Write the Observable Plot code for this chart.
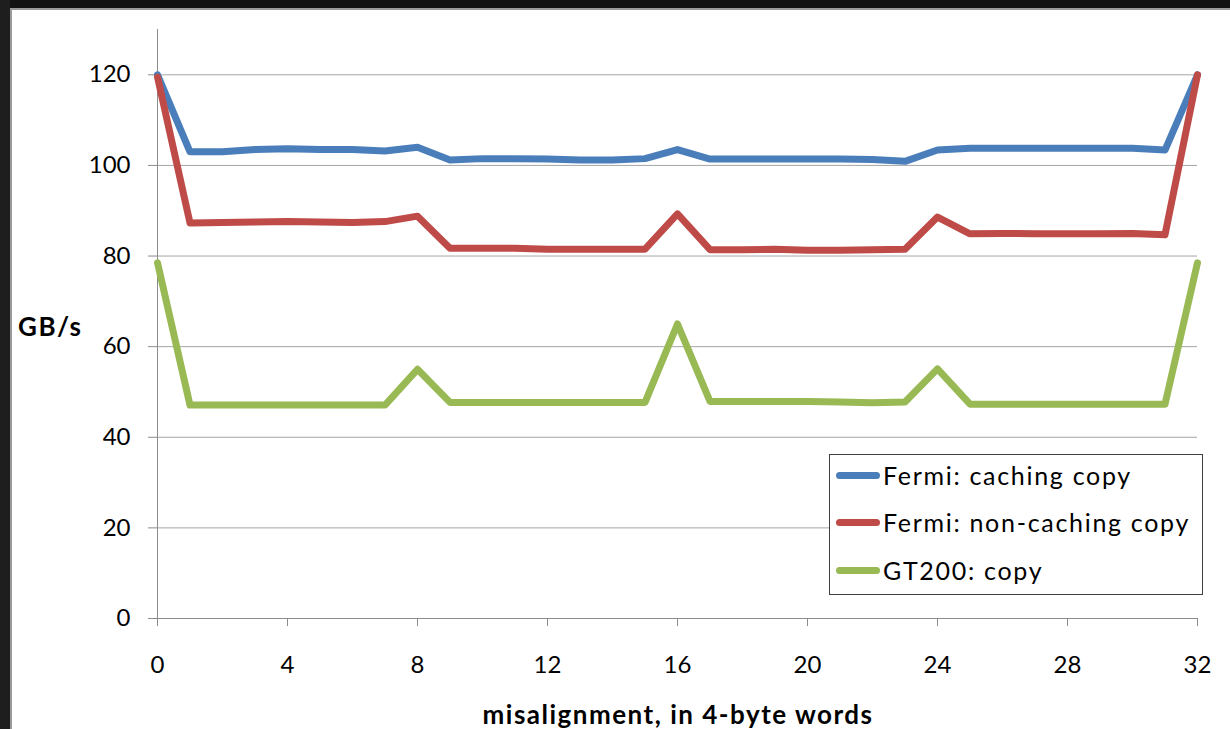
<!DOCTYPE html>
<html><head><meta charset="utf-8">
<script src="https://cdn.jsdelivr.net/npm/d3@7"></script>
<script src="https://cdn.jsdelivr.net/npm/@observablehq/plot@0.6"></script>
<style>
body{margin:0;background:#fff;}
#wrap{position:relative;width:1230px;height:729px;overflow:hidden;background:#fff;font-family:Lato,"Open Sans",sans-serif;color:#000;}
#chart{position:absolute;left:0;top:0;}
#top{position:absolute;left:0;top:0;width:1230px;height:8px;background:#121212;}
#topline{position:absolute;left:10px;top:8px;width:1220px;height:2px;background:#9a9a9a;}
#left{position:absolute;left:0;top:0;width:10px;height:729px;background:#1e1e1e;}
#leftline{position:absolute;left:10px;top:8px;width:2px;height:721px;background:#9a9a9a;}
.ttl{position:absolute;font-weight:bold;font-size:26px;white-space:nowrap;line-height:1;letter-spacing:1.5px;}
#legend{position:absolute;left:829px;top:454px;width:372px;height:139px;border:1px solid #404040;background:#fff;}
.row{position:absolute;left:6px;height:30px;display:flex;align-items:center;font-size:25px;letter-spacing:1.7px;white-space:nowrap;}
.sw{width:44px;height:7px;border-radius:4px;margin-right:3px;}
</style></head>
<body><div id="wrap"><div id="chart"></div>
<div id="top"></div><div id="left"></div><div id="topline"></div><div id="leftline"></div>
<div class="ttl" id="ylab" style="left:18px;top:313px;">GB/s</div>
<div class="ttl" id="xlab" style="left:678px;top:701px;transform:translateX(-50%);">misalignment, in 4-byte words</div>
<div id="legend"></div>
</div>
<script>
const offsets = d3.range(0, 33);
const seriesNames = ["Fermi: caching copy", "Fermi: non-caching copy", "GT200: copy"];
const seriesColors = ["#4a7ebb", "#be4b48", "#98b954"];
const caching = [120,103.0,103.0,103.5,103.7,103.5,103.5,103.2,104.0,101.2,101.5,101.5,101.4,101.2,101.2,101.5,103.5,101.4,101.4,101.4,101.4,101.4,101.3,100.9,103.4,103.8,103.8,103.8,103.8,103.8,103.8,103.4,120];
const nonCaching = [119.5,87.3,87.4,87.5,87.6,87.5,87.4,87.6,88.8,81.7,81.7,81.7,81.5,81.5,81.5,81.5,89.3,81.4,81.4,81.5,81.3,81.3,81.4,81.5,88.6,84.9,85.0,84.9,84.9,84.9,85.0,84.7,120];
const gt200 = [78.5,47.1,47.1,47.1,47.1,47.1,47.1,47.1,55.0,47.7,47.7,47.7,47.7,47.7,47.7,47.7,65.0,47.9,47.9,47.9,47.9,47.8,47.6,47.8,55.1,47.3,47.3,47.3,47.3,47.3,47.3,47.3,78.5];
const yTicks = [0, 20, 40, 60, 80, 100, 120];
const xTicks = [0, 4, 8, 12, 16, 20, 24, 28, 32];

const allSeries = [caching, nonCaching, gt200];
const rows = [];
allSeries.forEach((vals, s) => vals.forEach((v, i) => rows.push({x: offsets[i], y: v, series: seriesNames[s]})));

const plot = Plot.plot({
  width: 1230, height: 729,
  marginLeft: 157, marginRight: 33, marginTop: 29, marginBottom: 111,
  style: {fontFamily: "Lato, 'Open Sans', sans-serif", fontSize: "24px", color: "#000", background: "transparent"},
  x: {domain: [0, 32]},
  y: {domain: [0, 130]},
  color: {domain: seriesNames, range: seriesColors},
  marks: [
    Plot.gridY(yTicks.slice(1), {stroke: "#a6a6a6", strokeOpacity: 1}),
    Plot.axisY(yTicks, {tickSize: 9, tickPadding: 18, label: null, stroke: "#8c8c8c", fill: "#000"}),
    Plot.axisX(xTicks, {tickSize: 8, tickPadding: 29, label: null, stroke: "#8c8c8c", fill: "#000"}),
    Plot.ruleY([0], {stroke: "#8c8c8c"}),
    Plot.ruleX([0], {stroke: "#8c8c8c"}),
    Plot.line(rows, {x: "x", y: "y", z: "series", stroke: "series", strokeWidth: 7, strokeLinecap: "round", strokeLinejoin: "round"})
  ]
});
document.getElementById("chart").appendChild(plot);

const legend = document.getElementById("legend");
const rowTops = [5, 52, 100];
seriesNames.forEach((name, i) => {
  const r = document.createElement("div");
  r.className = "row";
  r.style.top = rowTops[i] + "px";
  const sw = document.createElement("div");
  sw.className = "sw";
  sw.style.background = seriesColors[i];
  r.appendChild(sw);
  const t = document.createElement("span");
  t.textContent = name;
  r.appendChild(t);
  legend.appendChild(r);
});
</script>
</body></html>
